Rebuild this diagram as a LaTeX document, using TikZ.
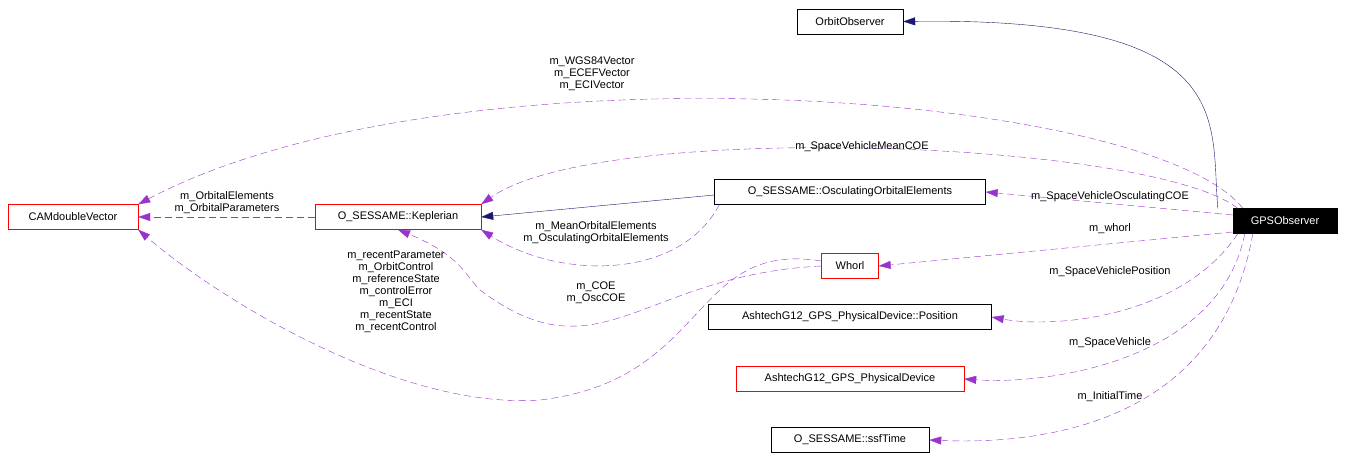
\documentclass[tikz,border=0pt]{standalone}
\usepackage{fontspec}
\setmainfont{Liberation Sans}
\usetikzlibrary{arrows.meta}
\definecolor{mpurple}{HTML}{9A32CD}
\definecolor{mnavy}{HTML}{191970}
\tikzset{
  cls/.style={draw=black, rectangle, minimum height=25pt, inner xsep=6pt, font=\fontsize{11}{12}\selectfont},
  redcls/.style={cls, draw=red},
  use/.style={color=mpurple, dash pattern=on 7pt off 4pt, -{Triangle[length=12pt,width=8pt,fill=mpurple]}},
  inh/.style={color=mnavy, -{Triangle[length=12pt,width=8pt,fill=mnavy]}},
  lbl/.style={font=\fontsize{11}{12}\selectfont, align=center, inner sep=0pt}
}
\begin{document}
\begin{tikzpicture}[x=1pt,y=-1pt]
\useasboundingbox (0,0) rectangle (1345,471);
% classes
\node[cls, minimum width=106pt] (orbit) at (850,21.5) {OrbitObserver};
\node[redcls, minimum width=130pt] (cam) at (73,217) {CAMdoubleVector};
\node[redcls, minimum width=166pt] (kep) at (398,217) {O\_SESSAME::Keplerian};
\node[cls, minimum width=271pt] (osc) at (850,192) {O\_SESSAME::OsculatingOrbitalElements};
\node[draw=black, fill=black, text=white, minimum height=25pt, minimum width=104pt, font=\fontsize{11}{12}\selectfont] (gps) at (1285,221) {GPSObserver};
\node[redcls, minimum width=57pt] (whorl) at (850,266) {Whorl};
\node[cls, minimum width=283pt] (pos) at (850,317) {AshtechG12\_GPS\_PhysicalDevice::Position};
\node[redcls, minimum width=228pt] (dev) at (850,379) {AshtechG12\_GPS\_PhysicalDevice};
\node[cls, minimum width=158pt] (time) at (850,440) {O\_SESSAME::ssfTime};
% inheritance
\draw[inh] (gps.north west) ++(-15,0) .. controls (1210,120) and (1240,17) .. (orbit.east);
\draw[inh] (osc.west) ++(0,3) -- (kep.east);
% members
\draw[use] (kep.west) -- (cam.east);
\node[lbl] (l1) at (227,203) {m\_OrbitalElements\\m\_OrbitalParameters};
\draw[use] (gps.north west) ++(10,0) .. controls (1150,90) and (450,40) .. (cam.north east);
\node[lbl] (l2) at (592,74) {m\_WGS84Vector\\m\_ECEFVector\\m\_ECIVector};
\draw[use] (gps.north west) ++(5,0) .. controls (1150,140) and (600,120) .. (kep.north east);
\node[lbl] (l3) at (862,147) {m\_SpaceVehicleMeanCOE};
\draw[use] (gps.west) ++(0,-6) -- (osc.east);
\node[lbl] (l4) at (1110,197) {m\_SpaceVehicleOsculatingCOE};
\draw[use] (gps.west) ++(0,11) -- (whorl.east);
\node[lbl] (l5) at (1110,229) {m\_whorl};
\draw[use] (gps.south west) ++(5,0) .. controls (1180,320) and (1050,328) .. (pos.east);
\node[lbl] (l6) at (1110,272) {m\_SpaceVehiclePosition};
\draw[use] (gps.south west) ++(12,0) .. controls (1220,360) and (1050,385) .. (dev.east);
\node[lbl] (l7) at (1110,343) {m\_SpaceVehicle};
\draw[use] (gps.south west) ++(20,0) .. controls (1220,420) and (1050,445) .. (time.east);
\node[lbl] (l8) at (1110,397) {m\_InitialTime};
\draw[use] (osc.south west) ++(5,0) .. controls (680,280) and (560,280) .. (kep.south east);
\node[lbl] (l9) at (596,233) {m\_MeanOrbitalElements\\m\_OsculatingOrbitalElements};
\draw[use] (whorl.west) .. controls (640,275) and (600,380) .. (480,290) .. controls (465,275) and (460,255) .. (kep.south);
\node[lbl] (l10) at (596,293) {m\_COE\\m\_OscCOE};
\draw[use] (whorl.west) ++(0,-5) .. controls (690,240) and (710,380) .. (540,400) .. controls (400,410) and (220,300) .. (cam.south east);
\node[lbl] (l11) at (396,292) {m\_recentParameter\\m\_OrbitControl\\m\_referenceState\\m\_controlError\\m\_ECI\\m\_recentState\\m\_recentControl};
\end{tikzpicture}
\end{document}
